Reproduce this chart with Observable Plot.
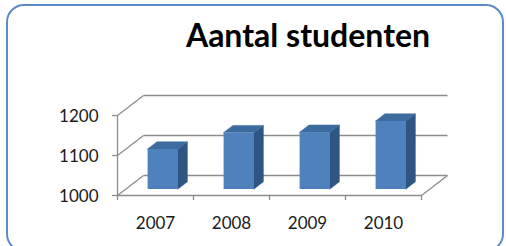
<!DOCTYPE html>
<html>
<head>
<meta charset="utf-8">
<script src="https://cdn.jsdelivr.net/npm/d3@7"></script>
<script src="https://cdn.jsdelivr.net/npm/@observablehq/plot@0.6"></script>
<style>
  html, body { margin: 0; padding: 0; background: #fff; }
  #wrap { position: relative; width: 506px; height: 246px; overflow: hidden; background: #fff; }
  #chart { position: absolute; left: 0; top: 0; }
  #border { position: absolute; left: 6px; top: 4px; width: 498px; height: 248px; box-sizing: border-box;
            border: 2px solid #5b8bcf; border-radius: 18px; pointer-events: none; }
  #title { position: absolute; left: 0; width: 616px; top: 19px; text-align: center;
           font-family: Lato, sans-serif; font-weight: 700; font-size: 32px; line-height: 32px; color: #000; }
</style>
</head>
<body>
<div id="wrap">
  <div id="chart"></div>
  <div id="title">Aantal studenten</div>
  <div id="border"></div>
</div>
<script>
// ---- data ----
const years = ["2007", "2008", "2009", "2010"];
const students = [1100, 1141, 1142, 1170];
const yTicks = [1000, 1100, 1200];

// ---- 3D projection (oblique depth expressed in data units) ----
const DX = 26 / 76;   // horizontal shift of the back wall, in category units
const DY = 50;        // vertical shift of the back wall, in value units
const F0 = 0.3, F1 = 0.66;   // bar front / back depth
const BAR_L = 0.3, BAR_R = 0.7;
const yBase = yTicks[0], yMax = yTicks[yTicks.length - 1];
const n = years.length;

const table = years.map((year, i) => ({year, i, value: students[i]}));

const sidePts = table.flatMap(d => [F0, F1].map(f => ({
  year: d.year, x: d.i + BAR_R + f * DX, y1: yBase + f * DY, y2: d.value + f * DY
})));
const topPts = table.flatMap(d => [F0, F1].map(f => ({
  year: d.year, y: d.value + f * DY, x1: d.i + BAR_L + f * DX, x2: d.i + BAR_R + f * DX
})));

const grid = "#8c8c8c";
const gw = 1.3;

const chart = Plot.plot({
  width: 506, height: 246,
  marginLeft: 117, marginRight: 85, marginTop: 115, marginBottom: 51,
  x: {domain: [0, n], axis: null},
  y: {domain: [yBase, yMax], axis: null},
  style: {background: "transparent", fontFamily: "Lato, sans-serif", fontSize: "17px", color: "#1a1a1a"},
  marks: [
    // back wall gridlines
    Plot.link(yTicks, {x1: 0 + DX, x2: n + DX, y1: d => d + DY, y2: d => d + DY, stroke: grid, strokeWidth: gw}),
    // left wall diagonals
    Plot.link(yTicks, {x1: 0, x2: 0 + DX, y1: d => d, y2: d => d + DY, stroke: grid, strokeWidth: gw}),
    // floor: front edge and right diagonal
    Plot.link([yBase], {x1: 0, x2: n, y1: d => d, y2: d => d, stroke: grid, strokeWidth: gw}),
    Plot.link([yBase], {x1: n, x2: n + DX, y1: d => d, y2: d => d + DY, stroke: grid, strokeWidth: gw}),
    // bars: side, top, front
    Plot.areaY(sidePts, {x: "x", y1: "y1", y2: "y2", z: "year", fill: "#2f5583", stroke: "#2f5583", strokeWidth: 0.5}),
    Plot.areaX(topPts, {y: "y", x1: "x1", x2: "x2", z: "year", fill: "#3d6a9f", stroke: "#3d6a9f", strokeWidth: 0.5}),
    Plot.rect(table, {
      x1: d => d.i + BAR_L + F0 * DX, x2: d => d.i + BAR_R + F0 * DX,
      y1: yBase + F0 * DY, y2: d => d.value + F0 * DY,
      fill: "#4f81bd"
    }),
    // front vertical axis line
    Plot.ruleX([0], {y1: yBase, y2: yMax, stroke: grid, strokeWidth: gw}),
    // y ticks
    Plot.ruleY(yTicks, {x1: 0, x2: 0, insetLeft: -5, stroke: grid, strokeWidth: gw}),
    // x ticks (category boundaries)
    Plot.ruleX(d3.range(n + 1), {y1: yBase, y2: yBase, insetBottom: -5, stroke: grid, strokeWidth: gw}),
    // labels
    Plot.text(yTicks, {x: 0, y: d => d, text: d => String(d), textAnchor: "end", dx: -19, dy: 1, fill: "#1a1a1a"}),
    Plot.text(table, {x: d => d.i + 0.5, y: yBase, text: "year", dy: 28, fill: "#1a1a1a"})
  ]
});
document.getElementById("chart").appendChild(chart);
</script>
</body>
</html>
